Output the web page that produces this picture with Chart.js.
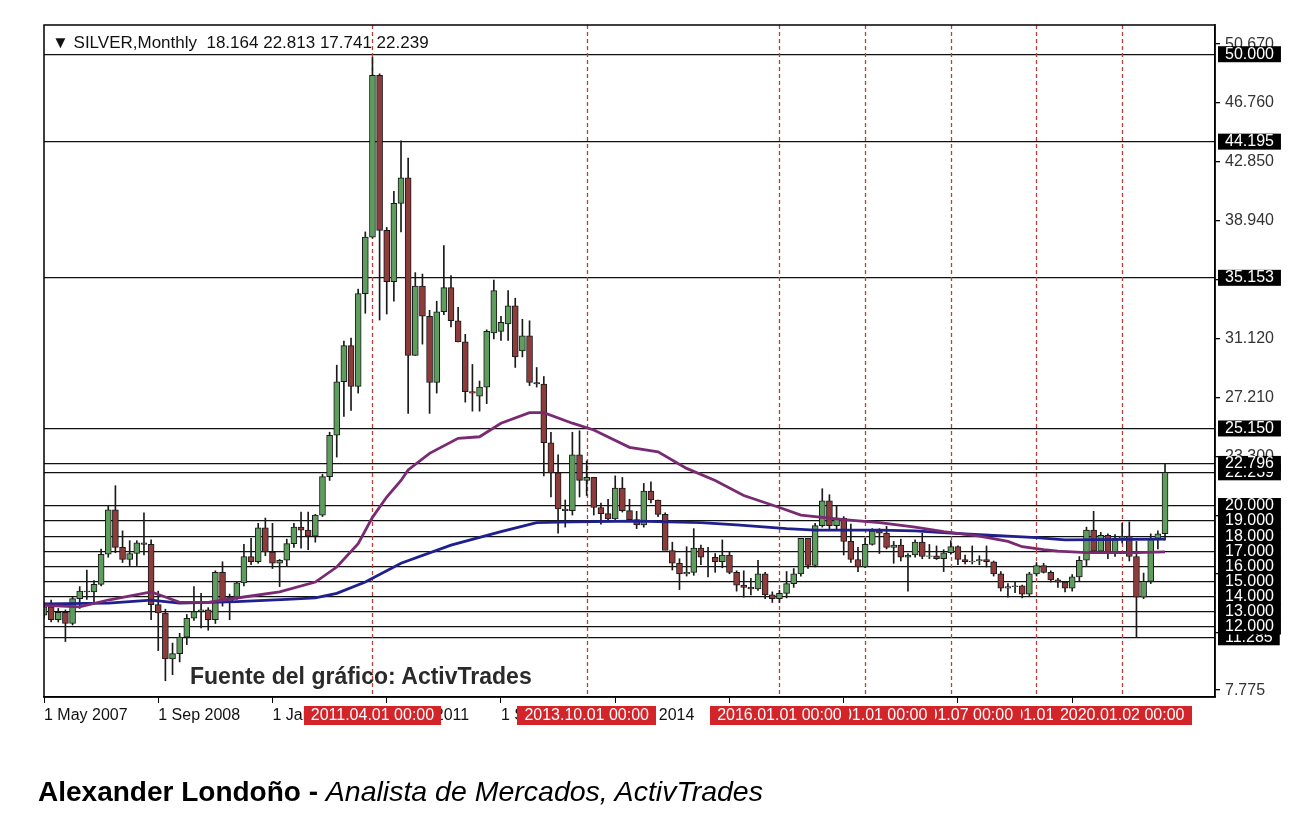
<!DOCTYPE html>
<html><head><meta charset="utf-8">
<script src="https://cdn.jsdelivr.net/npm/chart.js@4.4.1/dist/chart.umd.min.js"></script>
<style>
html,body{margin:0;padding:0;background:#fff;}
#wrap{position:relative;width:1314px;height:824px;overflow:hidden;}
#c{position:absolute;left:0;top:0;}
.hdr{position:absolute;left:52px;top:33px;font:17px "Liberation Sans",Arial,sans-serif;color:#111;white-space:pre;line-height:20px;}
.src{position:absolute;left:190px;top:663px;font:bold 23px "Liberation Sans",Arial,sans-serif;color:#2a2a2a;white-space:pre;}
.foot{position:absolute;left:38px;top:775px;font:28px "Liberation Sans",Arial,sans-serif;color:#000;white-space:pre;}
.foot b{font-weight:bold;}
.foot i{font-style:italic;font-size:28.5px;}
</style></head>
<body>
<div id="wrap">
<canvas id="c" width="1314" height="824"></canvas>
<div class="hdr">▼ SILVER,Monthly  18.164 22.813 17.741 22.239</div>
<div class="src">Fuente del gráfico: ActivTrades</div>
<div class="foot"><b>Alexander Londoño -</b> <i>Analista de Mercados, ActivTrades</i></div>
</div>
<script>
// ---- categories: monthly bars May 2007 .. Jul 2020 (broker data has no separate Jun 2010 bar)
const categories = [];
for (let y = 2007, m = 5; y < 2020 || (y === 2020 && m <= 7);) {
  if (!(y === 2010 && m === 6)) categories.push(y + '-' + String(m).padStart(2, '0'));
  m++; if (m > 12) { m = 1; y++; }
}
const emptySlots = 7;

const openP = [
12.75,13.30,12.45,12.95,12.20,13.85,14.35,14.30,
14.80,16.80,19.75,17.25,16.45,16.85,17.55,17.45,13.45,12.90,9.85,10.20,
11.30,12.55,13.00,13.10,12.45,15.60,13.65,13.95,14.90,16.65,16.30,18.55,
16.95,16.20,16.40,17.50,18.60,18.40,18.00,19.40,21.95,24.70,28.25,
30.65,27.95,34.10,37.85,48.60,38.30,34.90,40.10,41.80,30.00,34.60,32.60,
28.20,32.90,34.50,32.30,30.90,27.60,27.30,27.90,31.50,31.60,32.10,33.30,
30.30,31.30,28.20,28.10,24.20,22.20,19.80,19.70,23.40,21.70,21.90,19.90,
19.50,19.15,21.20,19.70,19.10,18.75,21.00,20.40,19.45,17.05,16.20,15.50,
15.60,17.20,16.60,16.60,16.30,16.75,15.60,14.75,14.60,14.50,15.50,14.10,
13.85,14.20,14.85,15.50,17.85,16.05,18.70,20.35,18.70,19.20,17.65,16.45,
15.95,17.45,18.35,18.20,17.25,17.40,16.60,16.75,17.60,16.65,16.70,16.50,
16.90,17.30,16.45,16.30,16.35,16.45,16.30,15.50,14.55,14.65,14.70,14.15,
15.50,16.05,15.60,15.10,14.95,14.55,15.30,16.40,18.40,17.00,18.05,16.95,
17.85,18.00,16.65,13.95,15.00,17.85,18.164];
const highP = [
13.55,13.75,13.20,13.10,13.95,14.65,15.75,15.05,
17.15,20.05,21.35,18.35,17.70,17.70,19.55,17.75,14.35,13.15,10.90,11.55,
12.80,14.65,14.20,13.25,15.70,16.30,14.15,15.00,17.45,17.85,18.85,19.20,
18.85,16.45,17.80,18.85,19.60,19.60,19.45,22.10,24.90,29.35,30.95,
31.15,34.40,38.20,49.80,48.70,38.50,40.90,44.25,43.10,35.50,35.40,33.00,
33.60,37.30,35.30,33.20,31.40,29.40,28.30,31.70,35.00,32.60,34.30,33.80,
32.40,32.30,29.20,28.60,24.90,23.40,20.40,24.90,25.00,23.00,21.90,20.20,
20.45,22.00,21.90,20.45,19.65,21.50,21.60,20.40,19.55,17.60,16.50,17.30,
18.50,17.40,17.25,16.85,17.75,16.95,15.70,15.70,15.20,16.40,15.60,14.30,
14.40,15.65,15.85,17.85,17.85,18.85,21.15,20.75,20.05,19.30,18.80,17.25,
17.85,18.50,18.50,18.65,17.65,17.80,16.85,17.75,18.20,17.45,17.35,17.10,
17.70,17.35,16.75,17.35,16.70,17.35,16.35,15.65,14.85,14.95,14.75,15.60,
16.25,16.20,15.70,15.20,15.00,15.45,16.65,18.60,19.65,18.25,18.15,18.10,
18.85,18.95,17.65,15.55,18.15,18.35,22.813];
const lowP = [
12.55,12.30,12.30,11.00,12.10,13.20,13.80,13.60,
14.70,16.60,16.90,16.25,16.05,16.05,16.75,12.45,10.40,8.40,8.80,9.65,
10.80,12.40,11.90,11.75,12.20,13.35,12.45,13.80,14.70,16.10,16.20,16.70,
15.85,14.65,16.00,17.25,17.20,17.10,17.60,19.30,21.70,23.25,25.95,
26.35,27.50,32.80,37.80,32.35,32.75,33.60,38.20,26.15,30.00,30.75,26.15,
27.50,32.70,31.90,30.90,26.90,26.30,26.30,26.80,31.10,31.00,31.00,29.20,
29.90,28.00,27.90,22.00,20.60,18.20,18.60,19.40,20.60,20.70,19.40,18.80,
19.00,19.10,19.60,19.05,18.50,18.60,20.20,19.30,17.10,15.75,14.45,15.35,
15.40,16.10,15.30,15.60,15.90,15.50,14.35,13.95,14.10,14.40,13.85,13.60,
13.60,13.90,14.60,15.35,15.85,15.95,18.60,18.50,18.45,16.75,16.25,15.65,
15.90,17.40,16.85,17.15,16.20,16.35,14.35,16.60,16.50,16.50,16.45,15.65,
16.80,16.10,16.15,16.15,16.10,15.95,15.35,14.35,13.95,14.25,13.90,14.05,
15.35,15.55,14.95,14.60,14.30,14.35,15.00,16.05,16.95,16.95,16.50,16.65,
17.55,16.35,11.30,13.85,14.85,17.15,17.741];
const closeP = [
13.30,12.45,12.95,12.20,13.85,14.35,14.30,14.80,
16.80,19.75,17.25,16.45,16.85,17.55,17.45,13.45,12.90,9.85,10.20,11.30,
12.55,13.00,13.10,12.45,15.60,13.65,13.95,14.90,16.65,16.30,18.55,16.95,
16.20,16.40,17.50,18.60,18.40,18.00,19.40,21.95,24.70,28.25,30.65,
27.95,34.10,37.85,48.60,38.30,34.90,40.10,41.80,30.00,34.60,32.60,28.20,
32.90,34.50,32.30,30.90,27.60,27.50,27.90,31.60,34.30,32.20,33.30,29.90,
31.30,28.20,28.10,24.20,22.20,19.80,19.70,23.40,21.70,21.90,19.90,19.50,
19.15,21.20,19.70,19.10,18.75,21.00,20.40,19.45,17.05,16.20,15.50,15.60,
17.20,16.60,16.60,16.30,16.75,15.60,14.75,14.60,14.50,15.50,14.10,13.85,
14.20,14.85,15.50,17.85,16.05,18.70,20.35,18.70,19.20,17.65,16.45,15.95,
17.45,18.35,18.20,17.25,17.40,16.60,16.75,17.60,16.65,16.70,16.50,16.90,
17.30,16.45,16.30,16.35,16.45,16.30,15.50,14.55,14.65,14.70,14.15,15.50,
16.05,15.60,15.10,14.95,14.55,15.30,16.40,18.40,17.00,18.05,16.95,17.85,
18.00,16.65,13.95,15.00,17.85,18.15,22.239];

// moving averages [month, value]
const maPurple = [
['2007-05',13.4],['2007-10',13.3],['2008-02',13.76],['2008-08',14.3],['2008-10',13.96],['2008-12',13.6],
['2009-04',13.6],['2009-09',13.96],['2010-02',14.3],['2010-08',14.95],['2010-11',15.95],['2011-02',17.5],
['2011-04',19.25],['2011-06',20.6],['2011-08',21.7],['2011-09',22.4],['2011-12',23.5],['2012-04',24.5],
['2012-07',24.6],['2012-10',25.5],['2013-02',26.2],['2013-04',26.2],['2013-08',25.5],['2013-11',25.05],
['2014-04',23.9],['2014-08',23.6],['2014-12',22.5],['2015-04',21.7],['2015-08',20.7],['2016-01',19.9],
['2016-04',19.4],['2016-10',19.1],['2017-03',18.9],['2017-08',18.6],['2017-12',18.3],['2018-05',18.0],
['2018-09',17.65],['2018-11',17.3],['2019-02',17.1],['2019-04',17.0],['2019-08',16.9],['2020-03',16.9],['2020-07',16.95]];
const maBlue = [
['2007-05',13.5],['2008-02',13.55],['2008-08',13.75],['2008-12',13.55],['2009-08',13.65],['2010-03',13.8],
['2010-08',13.9],['2010-11',14.2],['2011-03',14.95],['2011-08',16.2],['2012-03',17.4],['2012-10',18.3],
['2013-03',18.9],['2013-08',18.95],['2014-05',19.0],['2015-02',18.9],['2015-07',18.75],['2016-02',18.5],
['2016-06',18.4],['2017-03',18.4],['2017-08',18.35],['2018-01',18.2],['2018-09',18.0],['2019-01',17.9],
['2019-05',17.75],['2020-07',17.8]];

// price axis
const regularTicks = [50.670,46.760,42.850,38.940,35.030,31.120,27.210,23.300,19.390,15.480,11.570,7.775];
const levelTicks = [50.000,44.195,35.153,25.150,22.239,22.796,20.000,19.000,18.000,17.000,16.000,15.000,14.000,13.000,11.285,12.000];
const yMin = 7.32, yMax = 51.94;

// time axis
const xTickLabels = ['1 May 2007','1 Sep 2008','1 Jan 2010','1 May 2011','1 Sep 2012','1 Jan 2014','1 May 2015','1 Sep 2016','1 Jan 2018','1 May 2019'];
const xTickEvery = 16;
const markerMonths = ['2011-04','2013-10','2016-01','2017-01','2018-01','2019-01','2020-01'];
const markerTexts  = ['2011.04.01 00:00','2013.10.01 00:00','2016.01.01 00:00','2017.01.01 00:00','2018.01.07 00:00','2019.01.01 00:00','2020.01.02 00:00'];
const markerDrawOrder = [5,4,3,2,6,0,1];

// ---- build
const axisLabels = categories.concat(Array.from({length: emptySlots}, () => ''));
const bodies = openP.map((o, i) => [o, closeP[i]]);
const wicks = lowP.map((l, i) => [l, highP[i]]);
const bodyColors = openP.map((o, i) => closeP[i] >= o ? '#5f9d5f' : '#8e3b3b');
const isLevel = v => levelTicks.includes(v);

const FONT = '"Liberation Sans", Arial, sans-serif';

const overlay = {
  id: 'overlay',
  beforeDatasetsDraw(chart) {
    const {ctx, chartArea: a, scales: {x}} = chart;
    ctx.save();
    ctx.strokeStyle = '#b8423c'; ctx.lineWidth = 1.3; ctx.setLineDash([4, 3]);
    markerMonths.forEach(m => {
      const px = Math.round(x.getPixelForValue(categories.indexOf(m))) + 0.5;
      ctx.beginPath(); ctx.moveTo(px, a.top); ctx.lineTo(px, a.bottom); ctx.stroke();
    });
    ctx.restore();
  },
  afterDraw(chart) {
    const {ctx, chartArea: a, scales: {x}} = chart;
    ctx.save();
    ctx.strokeStyle = '#000'; ctx.lineWidth = 1.5;
    ctx.strokeRect(a.left, a.top, a.right - a.left, a.bottom - a.top);
    ctx.font = '16px ' + FONT;
    ctx.textBaseline = 'middle'; ctx.textAlign = 'center';
    markerDrawOrder.forEach(k => {
      const px = x.getPixelForValue(categories.indexOf(markerMonths[k]));
      const w = ctx.measureText(markerTexts[k]).width + 14;
      ctx.fillStyle = '#d3242a';
      ctx.fillRect(Math.round(px - w / 2), a.bottom + 9, Math.round(w), 19);
      ctx.fillStyle = '#fff';
      ctx.fillText(markerTexts[k], px, a.bottom + 19);
    });
    ctx.restore();
  }
};

new Chart(document.getElementById('c'), {
  type: 'bar',
  data: {
    labels: axisLabels,
    datasets: [
      {type: 'line', label: 'MA slow', data: maPurple.map(([m, v]) => ({x: m, y: v})), borderColor: '#7a2a72', borderWidth: 2.8, pointRadius: 0, tension: 0, order: 0},
      {type: 'line', label: 'MA long', data: maBlue.map(([m, v]) => ({x: m, y: v})), borderColor: '#1f1f8e', borderWidth: 2.8, pointRadius: 0, tension: 0, order: 1},
      {label: 'body', data: bodies, backgroundColor: bodyColors, borderColor: '#1a1a1a', borderWidth: 1, borderSkipped: false, barThickness: 6, grouped: false, order: 2},
      {label: 'wick', data: wicks, backgroundColor: '#1a1a1a', borderWidth: 0, barThickness: 1, grouped: false, order: 3}
    ]
  },
  options: {
    responsive: false, animation: false, devicePixelRatio: 1,
    layout: {padding: {left: 44, top: 25, right: 0, bottom: 87}},
    plugins: {legend: {display: false}, tooltip: {enabled: false}},
    scales: {
      x: {
        type: 'category', offset: false,
        afterFit: s => { s.height = 40; },
        border: {display: true, color: '#000', width: 1.5},
        grid: {
          offset: false, drawOnChartArea: false, drawTicks: true, tickLength: 6,
          color: c => (c.index % xTickEvery === 0 && c.index / xTickEvery < xTickLabels.length) ? '#000' : 'rgba(0,0,0,0)',
          tickColor: c => (c.index % xTickEvery === 0 && c.index / xTickEvery < xTickLabels.length) ? '#000' : 'rgba(0,0,0,0)'
        },
        ticks: {
          autoSkip: false, maxRotation: 0, minRotation: 0, align: 'start', padding: 3, color: '#111',
          font: {family: FONT, size: 16},
          callback: (v, i) => (i % xTickEvery === 0 && xTickLabels[i / xTickEvery]) || ''
        }
      },
      y: {
        type: 'linear', position: 'right', min: yMin, max: yMax,
        afterBuildTicks: s => { s.ticks = regularTicks.concat(levelTicks).map(v => ({value: v})); },
        afterFit: s => { s.width = 99; },
        border: {display: true, color: '#000', width: 1.5},
        grid: {
          color: c => isLevel(c.tick.value) ? '#111' : 'rgba(0,0,0,0)',
          tickColor: c => isLevel(c.tick.value) ? 'rgba(0,0,0,0)' : '#000',
          lineWidth: 1.3, drawTicks: true, tickLength: 5
        },
        ticks: {
          autoSkip: false, padding: 5,
          callback: v => Number(v).toFixed(3),
          color: c => isLevel(c.tick.value) ? '#fff' : '#333',
          showLabelBackdrop: c => isLevel(c.tick.value),
          backdropColor: c => isLevel(c.tick.value) ? '#000' : 'rgba(0,0,0,0)',
          backdropPadding: {top: 0, bottom: 0, left: 7, right: 7},
          font: {family: FONT, size: 16, lineHeight: 1}
        }
      }
    }
  },
  plugins: [overlay]
});
</script>
</body></html>
